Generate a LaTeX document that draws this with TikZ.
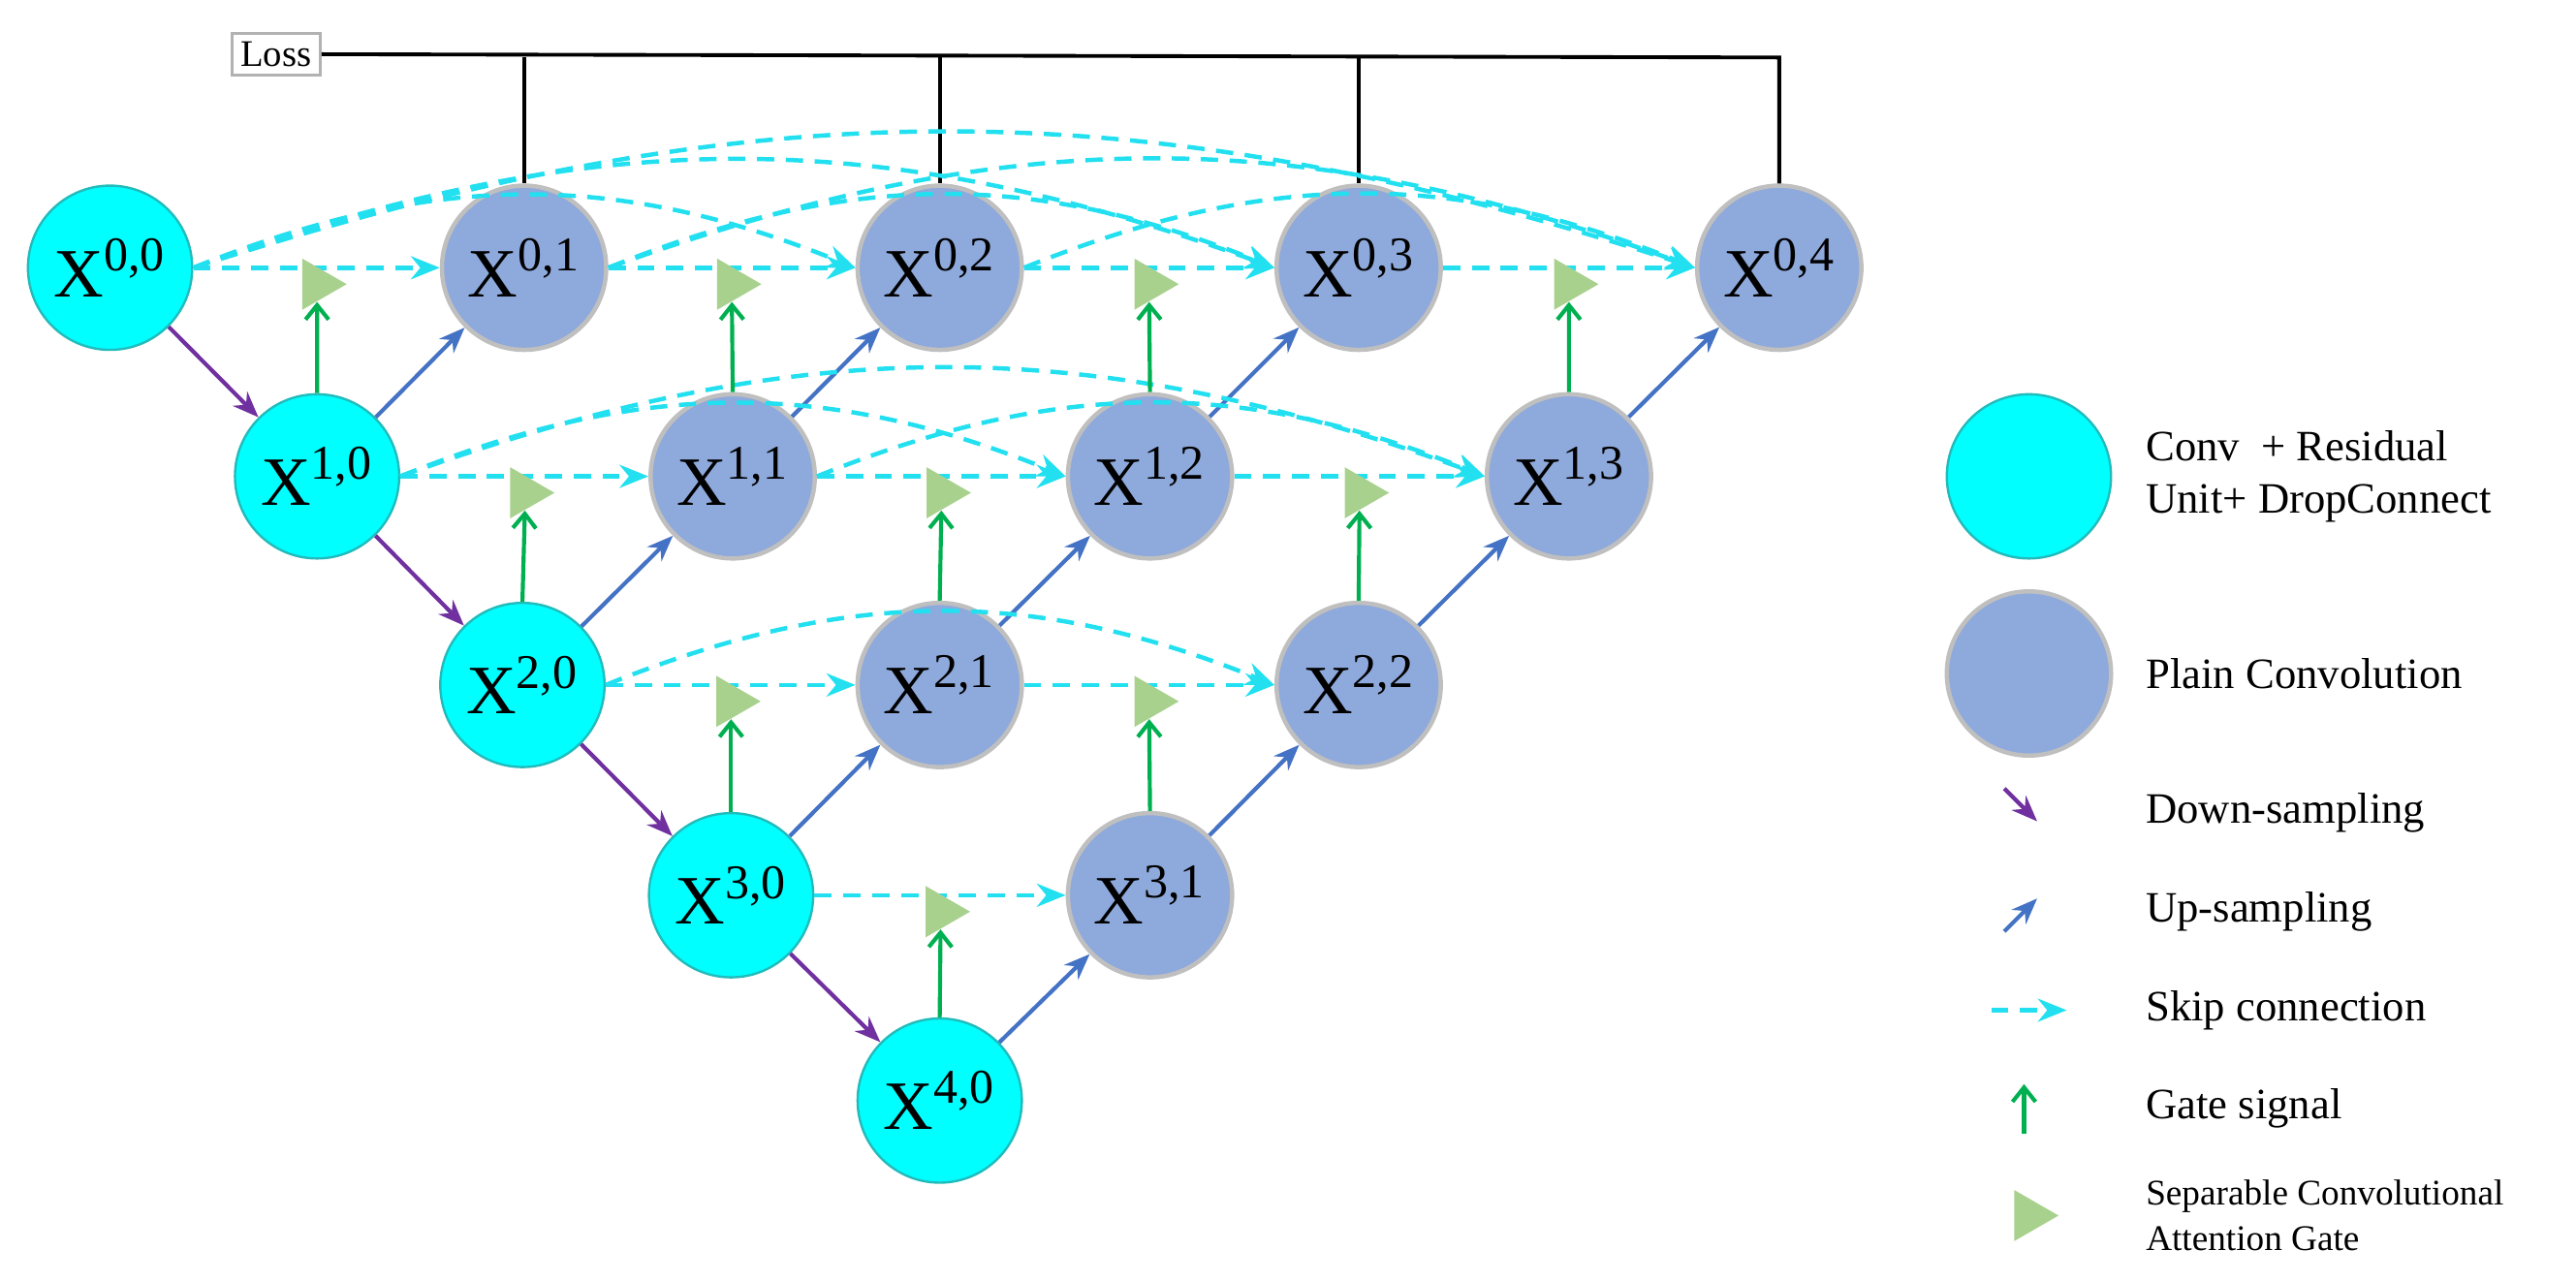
\documentclass[tikz,border=0pt]{standalone}
\usepackage{fontspec}
\setmainfont{Liberation Serif}
\usetikzlibrary{arrows.meta,calc,shapes.geometric}
\definecolor{cy}{HTML}{00FFFF}
\definecolor{cyb}{HTML}{22BBBB}
\definecolor{bl}{HTML}{8EA9DB}
\definecolor{blb}{HTML}{BFBFBF}
\definecolor{pu}{HTML}{7030A0}
\definecolor{ub}{HTML}{4472C4}
\definecolor{gr}{HTML}{00B050}
\definecolor{tri}{HTML}{A9D18E}
\definecolor{sk}{HTML}{22E0F0}
\newcommand{\nx}[1]{X\textsuperscript{#1}}
\begin{document}
\begin{tikzpicture}[x=0.02cm,y=-0.02cm,
 enc/.style={circle,fill=cy,draw=cyb,line width=0.8pt,minimum size=2cm,inner sep=0pt,font=\fontsize{24}{24}\selectfont},
 dec/.style={circle,fill=bl,draw=blb,line width=1.5pt,minimum size=2cm,inner sep=0pt,font=\fontsize{24}{24}\selectfont},
 down/.style={pu,line width=1.4pt,-{Stealth[length=9pt,width=7pt]}},
 up/.style={ub,line width=1.4pt,-{Stealth[length=9pt,width=7pt]}},
 skip/.style={sk,line width=1.5pt,dash pattern=on 6pt off 4pt,-{Stealth[length=10pt,width=8pt]}},
 gate/.style={gr,line width=1.4pt,-{Straight Barb[length=5pt,width=8pt]}},
 att/.style={regular polygon,regular polygon sides=3,shape border rotate=-90,fill=tri,inner sep=0pt,minimum size=0.72cm},
 leg/.style={anchor=west,font=\fontsize{15}{18}\selectfont,align=left}]
\useasboundingbox (0,0) rectangle (1568,780);
\node[enc] (X00) at (67,163) {\nx{0,0}};
\node[enc] (X10) at (193,290) {\nx{1,0}};
\node[enc] (X20) at (318,417) {\nx{2,0}};
\node[enc] (X30) at (445,545) {\nx{3,0}};
\node[enc] (X40) at (572,670) {\nx{4,0}};
\node[dec] (X01) at (319,163) {\nx{0,1}};
\node[dec] (X02) at (572,163) {\nx{0,2}};
\node[dec] (X03) at (827,163) {\nx{0,3}};
\node[dec] (X04) at (1083,163) {\nx{0,4}};
\node[dec] (X11) at (446,290) {\nx{1,1}};
\node[dec] (X12) at (700,290) {\nx{1,2}};
\node[dec] (X13) at (955,290) {\nx{1,3}};
\node[dec] (X21) at (572,417) {\nx{2,1}};
\node[dec] (X22) at (827,417) {\nx{2,2}};
\node[dec] (X31) at (700,545) {\nx{3,1}};
% loss
\node[draw=gray!60,line width=1pt,font=\fontsize{13}{13}\selectfont,inner sep=3pt] (loss) at (168,33) {Loss};
\coordinate (L4) at (1083,35);
\draw[line width=1.3pt] (loss.east) -- (L4) -- (X04.north);
\foreach \n in {01,02,03} \draw[line width=1.3pt] (X\n.north|-L4) -- (X\n.north);
% down / up
\foreach \a/\b in {00/10,10/20,20/30,30/40} \draw[down] (X\a) -- (X\b);
\foreach \a/\b in {10/01,11/02,12/03,13/04,20/11,21/12,22/13,30/21,31/22,40/31} \draw[up] (X\a) -- (X\b);
% arcs
\foreach \a/\b/\ang in {00/02/22,00/03/20,00/04/18,01/03/22,01/04/20,02/04/22,10/12/22,10/13/20,11/13/22,20/22/22}
  \draw[skip] (X\a.east) to[bend left=\ang] (X\b.west);
% straight skips + gates
\foreach \a/\b/\s in {00/01/10,01/02/11,02/03/12,03/04/13,10/11/20,11/12/21,12/13/22,20/21/30,21/22/31,30/31/40}{
  \draw[skip] (X\a) -- (X\b);
  \node[att] (G\a) at ($(X\a)!0.5!(X\b)+(0,10)$) {};
  \draw[gate] (X\s.north) -- (G\a.south);
}
% legend
\node[enc] (l1) at (1235,290) {};
\node[dec] (l2) at (1235,410) {};
\node[leg] (t1) at (1300,290) {Conv\enspace+ Residual\\Unit+ DropConnect};
\node[leg] (t2) at (1300,410) {Plain Convolution};
\coordinate (d1) at (1220,480); \coordinate (d2) at (1240,500);
\draw[down] (d1) -- (d2);
\node[leg] (t3) at (1300,495) {Down-sampling};
\coordinate (u1) at (1220,567); \coordinate (u2) at (1240,547);
\draw[up] (u1) -- (u2);
\node[leg] (t4) at (1300,555) {Up-sampling};
\coordinate (s1) at (1212,615); \coordinate (s2) at (1258,615);
\draw[skip] (s1) -- (s2);
\node[leg] (t5) at (1300,615) {Skip connection};
\coordinate (g1) at (1232,690); \coordinate (g2) at (1232,660);
\draw[gate] (g1) -- (g2);
\node[leg] (t6) at (1300,675) {Gate signal};
\node[att] (lt) at (1235,740) {};
\node[leg,font=\fontsize{12.5}{16}\selectfont] (t7) at (1300,740) {Separable Convolutional\\Attention Gate};
\end{tikzpicture}
\end{document}
